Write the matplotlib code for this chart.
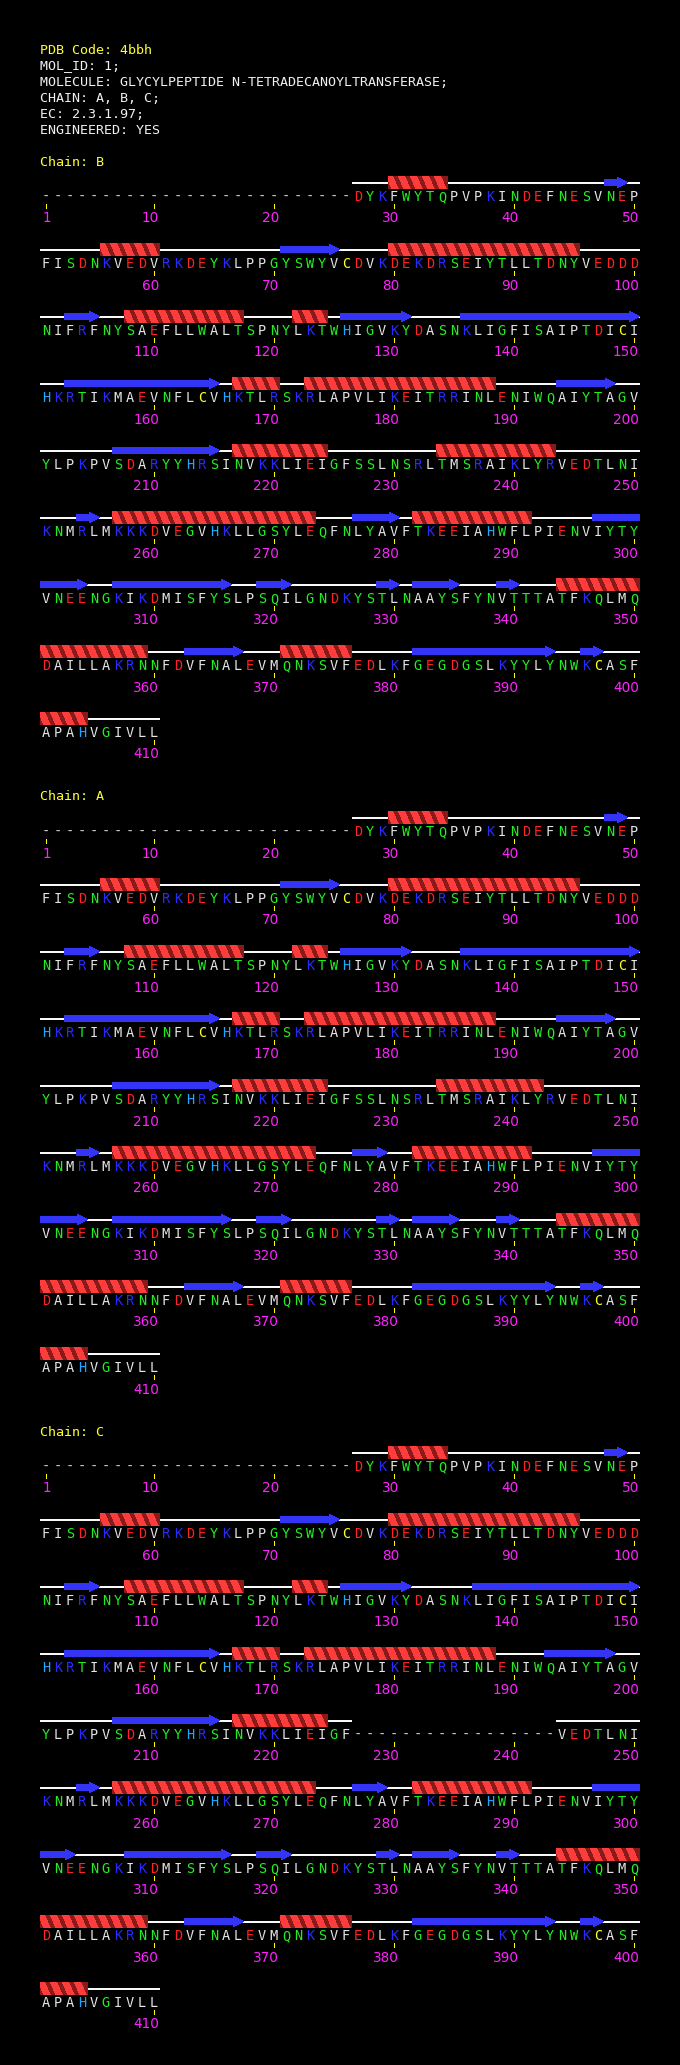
import matplotlib
matplotlib.use('Agg')
import matplotlib.pyplot as plt
from matplotlib.patches import Polygon, Rectangle

# header text
header_lines = ["PDB Code: 4bbh",
                "MOL_ID: 1;",
                "MOLECULE: GLYCYLPEPTIDE N-TETRADECANOYLTRANSFERASE;",
                "CHAIN: A, B, C;",
                "EC: 2.3.1.97;",
                "ENGINEERED: YES"]

# residues 1-410, '-' = not in the model
seq_rows = ["--------------------------DYKFWYTQPVPKINDEFNESVNEP",
            "FISDNKVEDVRKDEYKLPPGYSWYVCDVKDEKDRSEIYTLLTDNYVEDDD",
            "NIFRFNYSAEFLLWALTSPNYLKTWHIGVKYDASNKLIGFISAIPTDICI",
            "HKRTIKMAEVNFLCVHKTLRSKRLAPVLIKEITRRINLENIWQAIYTAGV",
            "YLPKPVSDARYYHRSINVKKLIEIGFSSLNSRLTMSRAIKLYRVEDTLNI",
            "KNMRLMKKKDVEGVHKLLGSYLEQFNLYAVFTKEEIAHWFLPIENVIYTY",
            "VNEENGKIKDMISFYSLPSQILGNDKYSTLNAAYSFYNVTTTATFKQLMQ",
            "DAILLAKRNNFDVFNALEVMQNKSVFEDLKFGEGDGSLKYYLYNWKCASF",
            "APAHVGIVLL"]

chain_names = ["B", "A", "C"]

# extra gaps per chain (first, last residue)
missing_B = []
missing_A = []
missing_C = [(227, 243)]

helix_B = [(30, 34), (56, 60), (80, 95), (108, 117), (122, 124), (167, 170), (173, 188),
           (217, 224), (234, 243), (257, 273), (282, 291), (344, 359), (371, 376), (401, 404)]
strand_B = [(48, 49), (71, 75), (103, 105), (126, 131), (136, 150), (153, 165), (194, 198),
            (207, 215), (254, 255), (277, 280), (297, 304), (307, 316), (319, 321), (329, 330),
            (332, 335), (339, 340), (363, 367), (382, 393), (396, 397)]

helix_A = [(30, 34), (56, 60), (80, 95), (108, 117), (122, 124), (167, 170), (173, 188),
           (217, 224), (234, 242), (257, 273), (282, 291), (344, 359), (371, 376), (401, 404)]
strand_A = [(48, 49), (71, 75), (103, 105), (126, 131), (136, 150), (153, 165), (194, 198),
            (207, 215), (254, 255), (277, 279), (297, 304), (307, 316), (319, 321), (329, 330),
            (332, 335), (339, 340), (363, 367), (382, 393), (396, 397)]

helix_C = [(30, 34), (56, 60), (80, 95), (108, 117), (122, 124), (167, 170), (173, 188),
           (217, 224), (257, 273), (282, 291), (344, 359), (371, 376), (401, 404)]
strand_C = [(48, 49), (71, 75), (103, 105), (126, 131), (137, 150), (153, 165), (193, 198),
            (207, 215), (254, 255), (277, 279), (297, 303), (308, 316), (319, 321), (329, 330),
            (332, 335), (339, 340), (363, 367), (382, 393), (396, 397)]

res_colors = {}
for aa in "DE":
    res_colors[aa] = '#ff2222'
for aa in "KR":
    res_colors[aa] = '#2a2aff'
for aa in "STNQGYW":
    res_colors[aa] = '#22ee22'
for aa in "AVLIMFP":
    res_colors[aa] = '#e4e4e4'
res_colors['H'] = '#1ea8ff'
res_colors['C'] = '#ffff22'
res_colors['-'] = '#d0d0d0'

X0 = 40
CW = 12
ROW_H = 67
FONT = 'DejaVu Sans Mono'


def left_x(res):
    return X0 + CW * ((res - 1) % 50)


def draw_helix(ax, a, b, L):
    xl = left_x(a)
    xr = left_x(b) + CW
    bg = Rectangle((xl, L - 6.6), xr - xl, 13.2, fc='#8a1a1a', ec='none', zorder=3,
                   antialiased=False)
    ax.add_patch(bg)
    for r in range(a, b + 1):
        x0 = left_x(r)
        p = Polygon([(x0 - 2, L - 6.6), (x0 + 4, L - 6.6), (x0 + 10.5, L + 6.6), (x0 + 4.5, L + 6.6)],
                    closed=True, fc='#ff3c3c', ec='none', zorder=4, antialiased=False)
        ax.add_patch(p)
        p.set_clip_path(bg)


def draw_strand(ax, a, b, L, head):
    xl = left_x(a)
    xr = left_x(b) + CW
    if head:
        xh = xr - 11
        pts = [(xl, L - 3.4), (xh, L - 3.4), (xh, L - 5.4), (xr - 0.5, L),
               (xh, L + 5.4), (xh, L + 3.4), (xl, L + 3.4)]
    else:
        pts = [(xl, L - 3.4), (xr, L - 3.4), (xr, L + 3.4), (xl, L + 3.4)]
    ax.add_patch(Polygon(pts, closed=True, fc='#3434f6', ec='none', zorder=3, antialiased=False))


def split_by_row(a, b):
    # break a residue range at the 50-residue row boundaries
    parts = []
    s = a
    while s <= b:
        row_end = ((s - 1) // 50 + 1) * 50
        e = min(b, row_end)
        parts.append((s, e))
        s = e + 1
    return parts


def draw_chain(ax, name, base, helices, strands, missing):
    ax.text(X0, base, "Chain: " + name, color='#ffff33', fontsize=9.6, family=FONT, va='baseline')
    seq = list("".join(seq_rows))
    for a, b in missing:
        for r in range(a, b + 1):
            seq[r - 1] = '-'
    nres = len(seq)
    L1 = base + 17
    for row in range(len(seq_rows)):
        L = L1 + ROW_H * row
        first = row * 50 + 1
        last = min(nres, first + 49)
        # backbone line over runs of present residues
        run = None
        for r in range(first, last + 2):
            present = r <= last and seq[r - 1] != '-'
            if present and run is None:
                run = r
            if not present and run is not None:
                ax.plot([left_x(run), left_x(r - 1) + CW], [L, L], color='white', lw=1.4,
                        solid_capstyle='butt', zorder=2)
                run = None
        for r in range(first, last + 1):
            aa = seq[r - 1]
            ax.text(left_x(r) + CW / 2, L + 18.7, aa, color=res_colors[aa], fontsize=9.8,
                    family=FONT, ha='center', va='baseline')
            if r == 1 or r % 10 == 0:
                xc = left_x(r) + CW / 2
                ax.plot([xc, xc], [L + 21.7, L + 25.7], color='#ffff00', lw=0.75, zorder=2)
                ax.text(xc + 5, L + 40, str(r), color='#ff22ff', fontsize=9.8, family='DejaVu Sans',
                        ha='right', va='baseline')
    for a, b in helices:
        for s, e in split_by_row(a, b):
            draw_helix(ax, s, e, L1 + ROW_H * ((s - 1) // 50))
    for a, b in strands:
        for s, e in split_by_row(a, b):
            draw_strand(ax, s, e, L1 + ROW_H * ((s - 1) // 50), e == b)


def plot():
    fig = plt.figure(figsize=(6.8, 20.65), dpi=100, facecolor='black')
    ax = fig.add_axes([0, 0, 1, 1])
    ax.set_facecolor('black')
    ax.set_xlim(0, 680)
    ax.set_ylim(2065, 0)
    ax.axis('off')

    for i, line in enumerate(header_lines):
        col = '#ffff33' if i == 0 else '#f0f0f0'
        ax.text(X0, 53.5 + 16 * i, line, color=col, fontsize=9.6, family=FONT, va='baseline')

    all_helix = {"B": helix_B, "A": helix_A, "C": helix_C}
    all_strand = {"B": strand_B, "A": strand_A, "C": strand_C}
    all_missing = {"B": missing_B, "A": missing_A, "C": missing_C}
    for k, name in enumerate(chain_names):
        draw_chain(ax, name, 165.5 + 635 * k, all_helix[name], all_strand[name], all_missing[name])

    fig.savefig('out.png', dpi=100, facecolor='black')


if __name__ == "__main__":
    plot()
